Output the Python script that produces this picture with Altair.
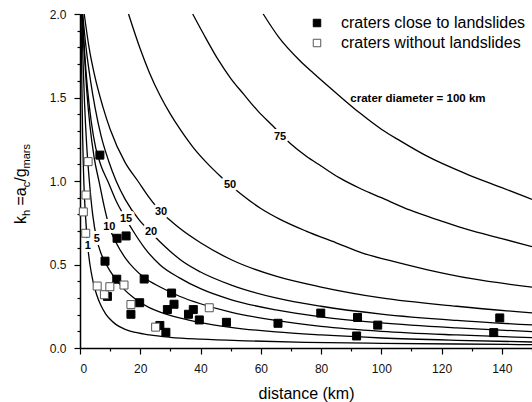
import altair as alt
import pandas as pd

FONT = "Liberation Sans"

# ---- curves (crater diameter, km): distance (km) vs k_h ----
d1_x = [0.35, 0.6, 0.9, 1.3, 1.8, 2.56, 3.3, 4.3, 5.5, 6.8, 8.5, 10, 12, 15, 18.5, 23, 30, 40, 55, 75, 100, 125, 150]
d1_y = [2.0, 1.6, 1.25, 0.98, 0.8, 0.611, 0.5, 0.4, 0.32, 0.26, 0.205, 0.172, 0.14, 0.112, 0.093, 0.078, 0.064, 0.053, 0.043, 0.034, 0.028, 0.024, 0.02]

d5_x = [0.6, 1.0, 1.5, 2.2, 3.1, 4.2, 5.55, 6.8, 8.3, 10, 12.2, 15, 17.5, 20, 23, 26.6, 33, 40, 50, 65, 80, 100, 125, 150]
d5_y = [2.0, 1.72, 1.47, 1.22, 1.0, 0.8, 0.653, 0.575, 0.515, 0.46, 0.405, 0.345, 0.305, 0.272, 0.242, 0.215, 0.18, 0.152, 0.124, 0.096, 0.078, 0.06, 0.046, 0.036]

d10_x = [0.7, 1.3, 2.2, 3.3, 4.7, 6.4, 8, 9.73, 12, 15, 18, 21.4, 26.6, 33, 40, 50, 65, 80, 100, 125, 150]
d10_y = [2.0, 1.8, 1.55, 1.33, 1.14, 0.99, 0.85, 0.726, 0.63, 0.54, 0.475, 0.42, 0.365, 0.31, 0.265, 0.215, 0.165, 0.13, 0.1, 0.078, 0.062]

d15_x = [0.8, 1.5, 2.5, 3.7, 5.2, 7, 9.2, 12, 15.28, 18, 21.4, 26.6, 33, 40, 50, 65, 80, 100, 125, 150]
d15_y = [2.0, 1.78, 1.55, 1.36, 1.2, 1.09, 1.0, 0.88, 0.772, 0.69, 0.6, 0.497, 0.42, 0.355, 0.29, 0.228, 0.187, 0.15, 0.12, 0.098]

d20_x = [0.9, 2, 3.5, 5, 7, 9.5, 12, 15, 19.5, 23.6, 26.6, 29.9, 33.2, 40, 50, 65, 80, 100, 125, 150]
d20_y = [2.0, 1.8, 1.6, 1.44, 1.27, 1.12, 1.0, 0.89, 0.77, 0.69, 0.635, 0.58, 0.53, 0.455, 0.378, 0.3, 0.25, 0.203, 0.165, 0.138]

d30_x = [1.4, 3, 5, 7.5, 10, 15, 19.2, 22.8, 26.9, 29.9, 33.2, 40, 50.4, 65, 80, 100, 125, 150]
d30_y = [2.0, 1.8, 1.62, 1.45, 1.31, 1.11, 1.0, 0.905, 0.814, 0.765, 0.715, 0.63, 0.527, 0.43, 0.365, 0.3, 0.25, 0.21]

d50_x = [16.1, 20, 23, 26.6, 30, 33.2, 37.6, 42, 46.5, 49.8, 53.2, 60, 66.4, 75, 85, 94, 102, 115, 130, 150]
d50_y = [2.0, 1.79, 1.65, 1.51, 1.4, 1.31, 1.2, 1.11, 1.03, 0.976, 0.925, 0.835, 0.77, 0.7, 0.63, 0.567, 0.527, 0.47, 0.415, 0.365]

d75_x = [37.4, 41, 45.9, 50, 54.3, 59, 63.7, 69.8, 75, 80, 86, 93, 100, 109.6, 120, 128.5, 140, 150]
d75_y = [2.0, 1.88, 1.725, 1.615, 1.52, 1.42, 1.335, 1.225, 1.15, 1.09, 1.02, 0.955, 0.9, 0.825, 0.76, 0.71, 0.655, 0.607]

d100_x = [60.8, 66, 73, 77.5, 86.4, 93, 100, 106.3, 115, 128.5, 140, 150]
d100_y = [2.0, 1.86, 1.72, 1.645, 1.505, 1.405, 1.31, 1.24, 1.15, 1.04, 0.96, 0.89]

curve_names = ["1", "5", "10", "15", "20", "30", "50", "75", "100"]
curve_xs = [d1_x, d5_x, d10_x, d15_x, d20_x, d30_x, d50_x, d75_x, d100_x]
curve_ys = [d1_y, d5_y, d10_y, d15_y, d20_y, d30_y, d50_y, d75_y, d100_y]

# ---- craters ----
close_x = [6.6, 12.3, 15.3, 8.3, 12.2, 21.3, 9.1, 19.8, 16.9, 30.4, 31.2, 29.0, 26.5, 28.5, 36.0, 37.6, 39.6, 48.6, 65.7, 79.9, 92.1, 91.8, 98.8, 139.3, 137.3]
close_y = [1.155, 0.657, 0.671, 0.52, 0.412, 0.413, 0.309, 0.271, 0.202, 0.329, 0.262, 0.23, 0.135, 0.094, 0.202, 0.23, 0.168, 0.154, 0.148, 0.209, 0.183, 0.072, 0.137, 0.18, 0.092]
without_x = [2.7, 2.0, 1.1, 1.9, 5.7, 8.1, 9.9, 14.6, 16.9, 25.1, 42.9]
without_y = [1.116, 0.916, 0.815, 0.687, 0.371, 0.319, 0.367, 0.377, 0.26, 0.125, 0.241]
type_names = ["craters close to landslides", "craters without landslides"]

# ---- curve labels ----
lbl_text = ["1", "5", "10", "15", "20", "30", "50", "75"]
lbl_x = [2.56, 5.55, 9.73, 15.28, 23.6, 26.9, 49.8, 66.4]
lbl_y = [0.611, 0.653, 0.726, 0.772, 0.696, 0.814, 0.976, 1.263]

annot_text = ["crater diameter = 100 km"]
annot_x = [89.7]
annot_y = [1.49]

x_ticks = [0, 10, 20, 30, 40, 50, 60, 70, 80, 90, 100, 110, 120, 130, 140, 150]
y_ticks = [0.0, 0.1, 0.2, 0.3, 0.4, 0.5, 0.6, 0.7, 0.8, 0.9, 1.0, 1.1, 1.2, 1.3, 1.4, 1.5, 1.6, 1.7, 1.8, 1.9, 2.0]

# ---- tables ----
rows = []
for name, xs, ys in zip(curve_names, curve_xs, curve_ys):
    for xv, yv in zip(xs, ys):
        rows.append({"curve": name, "x": xv, "y": yv})
curve_df = pd.DataFrame(rows)

pts_df = pd.DataFrame({
    "x": close_x + without_x,
    "y": close_y + without_y,
    "type": [type_names[0]] * len(close_x) + [type_names[1]] * len(without_x),
})
lbl_df = pd.DataFrame({"x": lbl_x, "y": lbl_y, "t": lbl_text})
annot_df = pd.DataFrame({"x": annot_x, "y": annot_y, "t": annot_text})

x_major = "datum.value % 20 === 0"
y_major = "abs(datum.value*2 - round(datum.value*2)) < 1e-6"

x_enc = alt.X("x:Q", scale=alt.Scale(domain=[0, 150], nice=False, zero=False),
              axis=alt.Axis(values=x_ticks, labelExpr=f"{x_major} ? datum.label : ''",
                            tickSize={"condition": {"test": x_major, "value": 6}, "value": 3},
                            title="distance (km)", grid=False, labelPadding=9, titlePadding=11))
y_enc = alt.Y("y:Q", scale=alt.Scale(domain=[0, 2], nice=False, zero=False),
              axis=alt.Axis(values=y_ticks, format=".1f", labelExpr=f"{y_major} ? datum.label : ''",
                            tickSize={"condition": {"test": y_major, "value": 6}, "value": 3},
                            title=None, grid=False, labelPadding=8))

lines = alt.Chart(curve_df).mark_line(color="black", strokeWidth=1.3, interpolate="monotone").encode(
    x=x_enc, y=y_enc, detail="curve:N")

halo = alt.Chart(lbl_df).mark_text(font=FONT, fontSize=11, fontWeight="bold", color="white",
                                   stroke="white", strokeWidth=6, strokeJoin="round").encode(
    x=x_enc, y=y_enc, text="t:N")
labels = alt.Chart(lbl_df).mark_text(font=FONT, fontSize=11, fontWeight="bold", color="black").encode(
    x=x_enc, y=y_enc, text="t:N")
annot = alt.Chart(annot_df).mark_text(font=FONT, fontSize=11.5, fontWeight="bold", color="black",
                                      align="left").encode(x=x_enc, y=y_enc, text="t:N")

leg = alt.Legend(orient="none", legendX=229, legendY=1, title=None, labelFont=FONT, labelFontSize=16,
                 labelColor="black", symbolSize=56, symbolType="square", symbolStrokeWidth=1,
                 rowPadding=4, labelOffset=16, padding=0, labelLimit=0)
pts = alt.Chart(pts_df).mark_square(size=64, strokeWidth=1, opacity=1).encode(
    x=x_enc, y=y_enc,
    fill=alt.Fill("type:N", scale=alt.Scale(domain=type_names, range=["black", "white"]), legend=leg),
    stroke=alt.Stroke("type:N", scale=alt.Scale(domain=type_names, range=["black", "#555555"]), legend=leg),
)

# ---- y axis title built from pieces (with subscripts) ----
title_pieces = [("k", 16, -54, 210), ("h", 11, -50, 202), ("=", 16, -54, 191.5), ("a", 16, -54, 182.2),
                ("c", 11, -50, 173.3), ("/g", 16, -54, 167.8), ("mars", 11, -50, 154.5)]
title_layers = []
for txt, fs, px, py in title_pieces:
    title_layers.append(
        alt.Chart(pd.DataFrame({"t": [txt]})).mark_text(
            font=FONT, fontSize=fs, angle=270, align="left", baseline="alphabetic", color="black"
        ).encode(text="t:N", x=alt.value(px), y=alt.value(py))
    )

chart = alt.layer(lines, halo, labels, annot, pts, *title_layers).properties(
    width=452, height=334,
    padding={"left": 80, "top": 14, "right": 0, "bottom": 54},
    autosize=alt.AutoSizeParams(type="none"),
).configure_view(stroke=None).configure_axis(
    labelFont=FONT, labelFontSize=12, labelColor="#111111",
    titleFont=FONT, titleFontSize=16, titleFontWeight="normal", titleColor="black",
    domainColor="black", domainWidth=1.5, tickColor="black", tickWidth=1.2,
)

chart.save("out.html", embed_options={"renderer": "svg", "actions": False})
